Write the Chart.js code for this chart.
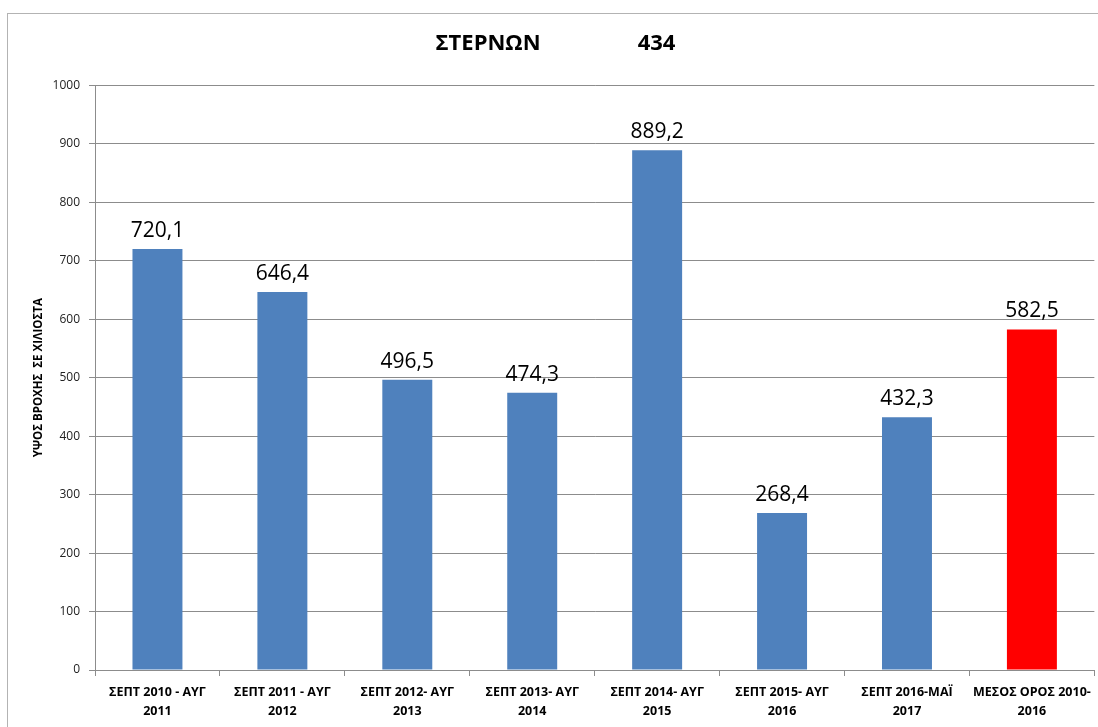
<!DOCTYPE html>
<html>
<head>
<meta charset="utf-8">
<script src="https://cdn.jsdelivr.net/npm/chart.js@4.4.1/dist/chart.umd.min.js"></script>
<style>
    html, body { margin: 0; padding: 0; background: #fff; overflow: hidden; }
    #wrap { position: relative; width: 1098px; height: 727px; }
    #frame { position: absolute; left: 7px; top: 13px; width: 1200px; height: 800px; border: 1px solid #b3b3b3; }
    canvas { position: absolute; left: 0; top: 0; }
</style>
</head>
<body>
<div id="wrap">
    <div id="frame"></div>
    <canvas id="myChart" width="1098" height="727"></canvas>
</div>
<script>
// chart data
var categories = [
    ['ΣΕΠΤ 2010 - ΑΥΓ', '2011'],
    ['ΣΕΠΤ 2011 - ΑΥΓ', '2012'],
    ['ΣΕΠΤ 2012- ΑΥΓ', '2013'],
    ['ΣΕΠΤ 2013- ΑΥΓ', '2014'],
    ['ΣΕΠΤ 2014- ΑΥΓ', '2015'],
    ['ΣΕΠΤ 2015- ΑΥΓ', '2016'],
    ['ΣΕΠΤ 2016-ΜΑΪ', '2017'],
    ['ΜΕΣΟΣ ΟΡΟΣ 2010-', '2016']
];
var rainfall = [720.1, 646.4, 496.5, 474.3, 889.2, 268.4, 432.3, 582.5];
var barColors = ['#4F81BD', '#4F81BD', '#4F81BD', '#4F81BD', '#4F81BD', '#4F81BD', '#4F81BD', '#FF0000'];
var yTicks = [0, 100, 200, 300, 400, 500, 600, 700, 800, 900, 1000];
var chartTitle = 'ΣΤΕΡΝΩΝ                 434';
var yTitle = 'ΥΨΟΣ ΒΡΟΧΗΣ  ΣΕ ΧΙΛΙΟΣΤΑ';

Chart.defaults.font.family = "'Open Sans', 'Noto Sans', sans-serif";
Chart.defaults.color = '#000';

// draws the value above each bar, greek style decimal comma
var valueLabels = {
    id: 'valueLabels',
    afterDatasetsDraw: function (chart) {
        var ctx = chart.ctx;
        var meta = chart.getDatasetMeta(0);
        ctx.save();
        ctx.font = '21px "Open Sans", "Noto Sans", sans-serif';
        ctx.fillStyle = '#000';
        ctx.textAlign = 'center';
        ctx.textBaseline = 'alphabetic';
        meta.data.forEach(function (bar, i) {
            var txt = rainfall[i].toFixed(1).replace('.', ',');
            ctx.fillText(txt, bar.x, bar.y - 12);
        });
        ctx.restore();
    }
};

var ctx = document.getElementById('myChart').getContext('2d');
var myChart = new Chart(ctx, {
    type: 'bar',
    data: {
        labels: categories,
        datasets: [{
            data: rainfall,
            backgroundColor: barColors,
            borderWidth: 0,
            barPercentage: 0.4,
            categoryPercentage: 1
        }]
    },
    plugins: [valueLabels],
    options: {
        responsive: false,
        animation: false,
        layout: { padding: { left: 16, right: 3, top: 0, bottom: 0 } },
        plugins: {
            legend: { display: false },
            tooltip: { enabled: false },
            title: {
                display: true,
                text: chartTitle,
                font: { size: 22, weight: 'bold' },
                color: '#000',
                padding: { top: 31, bottom: 28 }
            }
        },
        scales: {
            x: {
                grid: {
                    offset: true,
                    drawOnChartArea: false,
                    drawTicks: true,
                    tickLength: 6,
                    color: '#8c8c8c'
                },
                border: { color: '#8c8c8c' },
                ticks: {
                    font: { size: 12.5, weight: 'bold', lineHeight: 1.5 },
                    color: '#000',
                    padding: 7,
                    maxRotation: 0,
                    autoSkip: false
                },
                afterFit: function (scale) { scale.height = 57; }
            },
            y: {
                min: 0,
                max: 1000,
                afterBuildTicks: function (scale) {
                    scale.ticks = yTicks.map(function (v) { return { value: v }; });
                },
                grid: { color: '#8c8c8c', tickLength: 6 },
                border: { color: '#8c8c8c' },
                ticks: {
                    font: { size: 12 },
                    color: '#222',
                    padding: 9,
                    callback: function (v) { return String(v); }
                },
                title: {
                    display: true,
                    text: yTitle,
                    font: { size: 11.5, weight: 'bold' },
                    color: '#000',
                    padding: { top: 16, bottom: 0 }
                },
                afterFit: function (scale) { scale.width = 79; }
            }
        }
    }
});
</script>
</body>
</html>
